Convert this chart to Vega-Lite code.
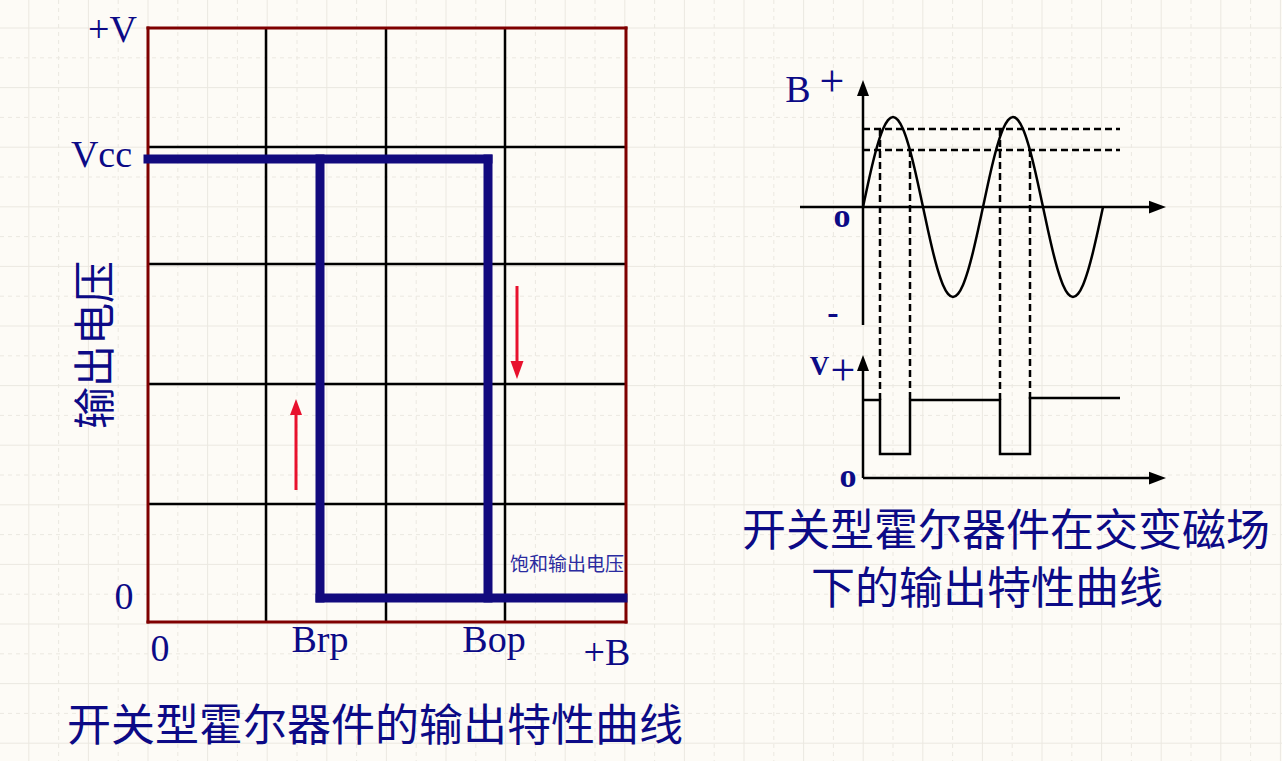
{
  "$schema": "https://vega.github.io/schema/vega-lite/v6.json",
  "width": 1282,
  "height": 761,
  "padding": 0,
  "autosize": "none",
  "background": "#fdfbf6",
  "config": {"view": {"stroke": null}},
  "datasets": {
    "bgSolid": [
      {"x":28.8,"y":0,"x2":28.8,"y2":761},{"x":88.4,"y":0,"x2":88.4,"y2":761},{"x":148,"y":0,"x2":148,"y2":761},{"x":207.6,"y":0,"x2":207.6,"y2":761},{"x":267.2,"y":0,"x2":267.2,"y2":761},{"x":326.8,"y":0,"x2":326.8,"y2":761},{"x":386.4,"y":0,"x2":386.4,"y2":761},{"x":446,"y":0,"x2":446,"y2":761},{"x":505.6,"y":0,"x2":505.6,"y2":761},{"x":565.2,"y":0,"x2":565.2,"y2":761},{"x":624.8,"y":0,"x2":624.8,"y2":761},{"x":684.4,"y":0,"x2":684.4,"y2":761},{"x":744,"y":0,"x2":744,"y2":761},{"x":803.6,"y":0,"x2":803.6,"y2":761},{"x":863.2,"y":0,"x2":863.2,"y2":761},{"x":922.8,"y":0,"x2":922.8,"y2":761},{"x":982.4,"y":0,"x2":982.4,"y2":761},{"x":1042,"y":0,"x2":1042,"y2":761},{"x":1101.6,"y":0,"x2":1101.6,"y2":761},{"x":1161.2,"y":0,"x2":1161.2,"y2":761},{"x":1220.8,"y":0,"x2":1220.8,"y2":761},{"x":1280.4,"y":0,"x2":1280.4,"y2":761},
      {"x":0,"y":28,"x2":1282,"y2":28},{"x":0,"y":87.6,"x2":1282,"y2":87.6},{"x":0,"y":147.2,"x2":1282,"y2":147.2},{"x":0,"y":206.8,"x2":1282,"y2":206.8},{"x":0,"y":266.4,"x2":1282,"y2":266.4},{"x":0,"y":326,"x2":1282,"y2":326},{"x":0,"y":385.6,"x2":1282,"y2":385.6},{"x":0,"y":445.2,"x2":1282,"y2":445.2},{"x":0,"y":504.8,"x2":1282,"y2":504.8},{"x":0,"y":564.4,"x2":1282,"y2":564.4},{"x":0,"y":624,"x2":1282,"y2":624},{"x":0,"y":683.6,"x2":1282,"y2":683.6},{"x":0,"y":743.2,"x2":1282,"y2":743.2}
    ],
    "bgDash": [
      {"x":58.6,"y":0,"x2":58.6,"y2":761},{"x":118.2,"y":0,"x2":118.2,"y2":761},{"x":177.8,"y":0,"x2":177.8,"y2":761},{"x":237.4,"y":0,"x2":237.4,"y2":761},{"x":297,"y":0,"x2":297,"y2":761},{"x":356.6,"y":0,"x2":356.6,"y2":761},{"x":416.2,"y":0,"x2":416.2,"y2":761},{"x":475.8,"y":0,"x2":475.8,"y2":761},{"x":535.4,"y":0,"x2":535.4,"y2":761},{"x":595,"y":0,"x2":595,"y2":761},{"x":654.6,"y":0,"x2":654.6,"y2":761},{"x":714.2,"y":0,"x2":714.2,"y2":761},{"x":773.8,"y":0,"x2":773.8,"y2":761},{"x":833.4,"y":0,"x2":833.4,"y2":761},{"x":893,"y":0,"x2":893,"y2":761},{"x":952.6,"y":0,"x2":952.6,"y2":761},{"x":1012.2,"y":0,"x2":1012.2,"y2":761},{"x":1071.8,"y":0,"x2":1071.8,"y2":761},{"x":1131.4,"y":0,"x2":1131.4,"y2":761},{"x":1191,"y":0,"x2":1191,"y2":761},{"x":1250.6,"y":0,"x2":1250.6,"y2":761},
      {"x":0,"y":57.8,"x2":1282,"y2":57.8},{"x":0,"y":117.4,"x2":1282,"y2":117.4},{"x":0,"y":177,"x2":1282,"y2":177},{"x":0,"y":236.6,"x2":1282,"y2":236.6},{"x":0,"y":296.2,"x2":1282,"y2":296.2},{"x":0,"y":355.8,"x2":1282,"y2":355.8},{"x":0,"y":415.4,"x2":1282,"y2":415.4},{"x":0,"y":475,"x2":1282,"y2":475},{"x":0,"y":534.6,"x2":1282,"y2":534.6},{"x":0,"y":594.2,"x2":1282,"y2":594.2},{"x":0,"y":653.8,"x2":1282,"y2":653.8},{"x":0,"y":713.4,"x2":1282,"y2":713.4}
    ],
    "grid": [
      {"x":266,"y":28,"x2":266,"y2":622},{"x":386,"y":28,"x2":386,"y2":622},{"x":505,"y":28,"x2":505,"y2":622},
      {"x":148,"y":147,"x2":626,"y2":147},{"x":148,"y":264,"x2":626,"y2":264},{"x":148,"y":384,"x2":626,"y2":384},{"x":148,"y":504,"x2":626,"y2":504}
    ],
    "frame": [
      {"x":148,"y":28,"x2":626,"y2":28},{"x":148,"y":622,"x2":626,"y2":622},{"x":148,"y":28,"x2":148,"y2":622},{"x":626,"y":28,"x2":626,"y2":622}
    ],
    "curve": [
      {"x":148,"y":159,"x2":488,"y2":159},{"x":320,"y":159,"x2":320,"y2":598},{"x":488,"y":159,"x2":488,"y2":598},{"x":320,"y":598,"x2":623,"y2":598}
    ],
    "redShaft": [
      {"x":296,"y":414,"x2":296,"y2":490},{"x":517,"y":286,"x2":517,"y2":363}
    ],
    "redUp": [{"x":296,"y":407}],
    "redDown": [{"x":517,"y":370}],
    "axes": [
      {"x":863,"y":95,"x2":863,"y2":325},{"x":800,"y":207,"x2":1150,"y2":207},
      {"x":863,"y":370,"x2":863,"y2":478},{"x":863,"y":478,"x2":1150,"y2":478}
    ],
    "headUp": [{"x":863,"y":88},{"x":863,"y":363}],
    "headRight": [{"x":1157.5,"y":207},{"x":1157.5,"y":478}],
    "dashes": [
      {"x":863,"y":129,"x2":1120,"y2":129},{"x":863,"y":150,"x2":1120,"y2":150},
      {"x":880,"y":129,"x2":880,"y2":400},{"x":910,"y":150,"x2":910,"y2":400},
      {"x":1000,"y":129,"x2":1000,"y2":400},{"x":1030,"y":150,"x2":1030,"y2":400}
    ],
    "pulse": [
      {"i":0,"x":863,"y":400},{"i":1,"x":880,"y":400},{"i":2,"x":880,"y":454},{"i":3,"x":910,"y":454},{"i":4,"x":910,"y":400},{"i":5,"x":1000,"y":400},{"i":6,"x":1000,"y":454},{"i":7,"x":1030,"y":454},{"i":8,"x":1030,"y":398},{"i":9,"x":1120,"y":398}
    ],
    "sine": [
      {"x":863,"y":207},{"x":868,"y":183.7},{"x":873,"y":162},{"x":878,"y":143.4},{"x":883,"y":129.1},{"x":888,"y":120.1},{"x":893,"y":117},{"x":898,"y":120.1},{"x":903,"y":129.1},{"x":908,"y":143.4},{"x":913,"y":162},{"x":918,"y":183.7},{"x":923,"y":207},{"x":928,"y":230.3},{"x":933,"y":252},{"x":938,"y":270.6},{"x":943,"y":284.9},{"x":948,"y":293.9},{"x":953,"y":297},{"x":958,"y":293.9},{"x":963,"y":284.9},{"x":968,"y":270.6},{"x":973,"y":252},{"x":978,"y":230.3},{"x":983,"y":207},{"x":988,"y":183.7},{"x":993,"y":162},{"x":998,"y":143.4},{"x":1003,"y":129.1},{"x":1008,"y":120.1},{"x":1013,"y":117},{"x":1018,"y":120.1},{"x":1023,"y":129.1},{"x":1028,"y":143.4},{"x":1033,"y":162},{"x":1038,"y":183.7},{"x":1043,"y":207},{"x":1048,"y":230.3},{"x":1053,"y":252},{"x":1058,"y":270.6},{"x":1063,"y":284.9},{"x":1068,"y":293.9},{"x":1073,"y":297},{"x":1078,"y":293.9},{"x":1083,"y":284.9},{"x":1088,"y":270.6},{"x":1093,"y":252},{"x":1098,"y":230.3},{"x":1103,"y":207}
    ],
    "latin": [
      {"x":112.5,"y":42,"t":"+V"},{"x":101.5,"y":167,"t":"Vcc"},{"x":124,"y":609,"t":"0"},{"x":160,"y":661,"t":"0"},{"x":320,"y":652,"t":"Brp"},{"x":494,"y":652,"t":"Bop"},{"x":607,"y":665,"t":"+B"},{"x":798,"y":102,"t":"B"}
    ],
    "plus": [{"x":832,"y":96,"t":"+"},{"x":843,"y":385,"t":"+"}],
    "bold": [
      {"x":842,"y":227,"t":"o"},{"x":848,"y":487,"t":"o"},{"x":833,"y":324,"t":"-"}
    ],
    "boldV": [{"x":819.5,"y":375,"t":"V"}],
    "cjkBig": [
      {"x":375,"y":728,"t":"开关型霍尔器件的输出特性曲线"},{"x":1006,"y":533,"t":"开关型霍尔器件在交变磁场"},{"x":987,"y":591,"t":"下的输出特性曲线"}
    ],
    "cjkY": [{"x":97,"y":345,"t":"输出电压"}],
    "cjkSmall": [{"x":567,"y":565,"t":"饱和输出电压"}]
  },
  "encoding": {
    "x": {"field": "x", "type": "quantitative", "scale": {"domain": [0, 1282], "nice": false, "zero": false}, "axis": null},
    "y": {"field": "y", "type": "quantitative", "scale": {"domain": [0, 761], "nice": false, "zero": false, "reverse": true}, "axis": null}
  },
  "layer": [
    {"data": {"name": "bgSolid"}, "mark": {"type": "rule", "stroke": "#ebe8e1", "strokeWidth": 1}, "encoding": {"x2": {"field": "x2"}, "y2": {"field": "y2"}}},
    {"data": {"name": "bgDash"}, "mark": {"type": "rule", "stroke": "#ebe8e1", "strokeWidth": 1, "strokeDash": [4, 4]}, "encoding": {"x2": {"field": "x2"}, "y2": {"field": "y2"}}},
    {"data": {"name": "grid"}, "mark": {"type": "rule", "stroke": "#000000", "strokeWidth": 2.5}, "encoding": {"x2": {"field": "x2"}, "y2": {"field": "y2"}}},
    {"data": {"name": "frame"}, "mark": {"type": "rule", "stroke": "#7f0000", "strokeWidth": 3, "strokeCap": "square"}, "encoding": {"x2": {"field": "x2"}, "y2": {"field": "y2"}}},
    {"data": {"name": "curve"}, "mark": {"type": "rule", "stroke": "#120a7e", "strokeWidth": 9, "strokeCap": "square"}, "encoding": {"x2": {"field": "x2"}, "y2": {"field": "y2"}}},
    {"data": {"name": "redShaft"}, "mark": {"type": "rule", "stroke": "#e8112d", "strokeWidth": 3}, "encoding": {"x2": {"field": "x2"}, "y2": {"field": "y2"}}},
    {"data": {"name": "redUp"}, "mark": {"type": "point", "shape": "M0,-1L0.75,1L-0.75,1Z", "size": 256, "filled": true, "fill": "#e8112d", "strokeWidth": 0, "opacity": 1}},
    {"data": {"name": "redDown"}, "mark": {"type": "point", "shape": "M0,1L0.72,-1L-0.72,-1Z", "size": 324, "filled": true, "fill": "#e8112d", "strokeWidth": 0, "opacity": 1}},
    {"data": {"name": "axes"}, "mark": {"type": "rule", "stroke": "#000000", "strokeWidth": 2.5}, "encoding": {"x2": {"field": "x2"}, "y2": {"field": "y2"}}},
    {"data": {"name": "headUp"}, "mark": {"type": "point", "shape": "M0,-1L0.75,1L-0.75,1Z", "size": 256, "filled": true, "fill": "#000000", "strokeWidth": 0, "opacity": 1}},
    {"data": {"name": "headRight"}, "mark": {"type": "point", "shape": "M1,0L-1,-0.75L-1,0.75Z", "size": 289, "filled": true, "fill": "#000000", "strokeWidth": 0, "opacity": 1}},
    {"data": {"name": "dashes"}, "mark": {"type": "rule", "stroke": "#000000", "strokeWidth": 2.5, "strokeDash": [7, 4]}, "encoding": {"x2": {"field": "x2"}, "y2": {"field": "y2"}}},
    {"data": {"name": "pulse"}, "mark": {"type": "line", "stroke": "#000000", "strokeWidth": 2.5}, "encoding": {"order": {"field": "i", "type": "quantitative"}}},
    {"data": {"name": "sine"}, "mark": {"type": "line", "stroke": "#000000", "strokeWidth": 2.5, "interpolate": "monotone"}, "encoding": {}},
    {"data": {"name": "latin"}, "mark": {"type": "text", "font": "Liberation Serif", "fontSize": 38, "fill": "#0c0a86", "align": "center", "baseline": "alphabetic"}, "encoding": {"text": {"field": "t"}}},
    {"data": {"name": "plus"}, "mark": {"type": "text", "font": "Liberation Serif", "fontSize": 44, "fill": "#0c0a86", "align": "center", "baseline": "alphabetic"}, "encoding": {"text": {"field": "t"}}},
    {"data": {"name": "bold"}, "mark": {"type": "text", "font": "Liberation Serif", "fontSize": 34, "fontWeight": "bold", "fill": "#0c0a86", "align": "center", "baseline": "alphabetic"}, "encoding": {"text": {"field": "t"}}},
    {"data": {"name": "boldV"}, "mark": {"type": "text", "font": "Liberation Serif", "fontSize": 27, "fontWeight": "bold", "fill": "#0c0a86", "align": "center", "baseline": "alphabetic"}, "encoding": {"text": {"field": "t"}}},
    {"data": {"name": "cjkBig"}, "mark": {"type": "text", "font": "Noto Sans CJK SC", "fontSize": 44, "fill": "#0c0a86", "align": "center", "baseline": "middle"}, "encoding": {"text": {"field": "t"}}},
    {"data": {"name": "cjkY"}, "mark": {"type": "text", "font": "Noto Sans CJK SC", "fontSize": 42, "fill": "#0c0a86", "align": "center", "baseline": "middle", "angle": 270}, "encoding": {"text": {"field": "t"}}},
    {"data": {"name": "cjkSmall"}, "mark": {"type": "text", "font": "Noto Sans CJK SC", "fontSize": 19, "fill": "#2b2ba0", "align": "center", "baseline": "middle"}, "encoding": {"text": {"field": "t"}}}
  ]
}
